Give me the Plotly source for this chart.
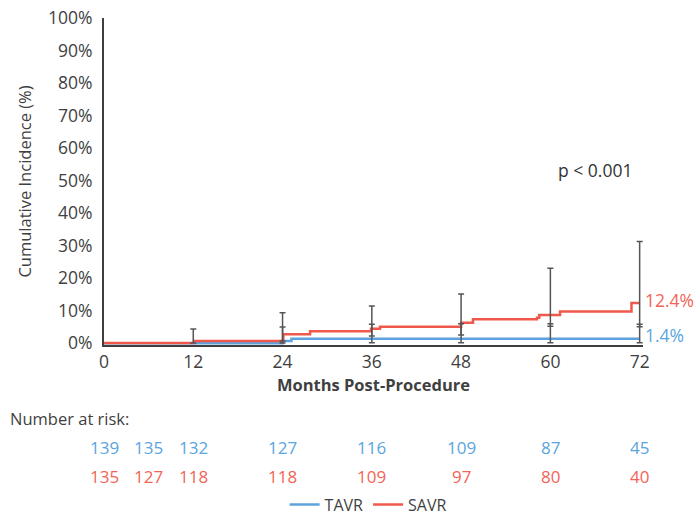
import plotly.graph_objects as go

# ---- data ----
tavr_t = [0, 24.0, 25.2, 72.0]
tavr_v = [0.0, 0.7, 1.4, 1.4]
savr_t = [0, 12.1, 24.1, 27.7, 35.9, 37.1, 48.0, 49.6, 58.2, 58.5, 61.3, 70.9, 72.0]
savr_v = [0.1, 0.7, 2.8, 3.7, 4.5, 5.1, 6.3, 7.4, 7.9, 8.7, 9.8, 12.4, 12.4]

tavr_ci_x = [24, 36, 48, 60, 72]
tavr_ci_y = [0.7, 1.4, 1.4, 1.4, 1.4]
tavr_ci_hi = [5.0, 5.9, 6.0, 6.0, 5.9]
tavr_ci_lo = [0.1, 0.2, 0.2, 0.2, 0.2]

savr_ci_x = [12, 24, 36, 48, 60, 72]
savr_ci_y = [0.7, 2.8, 4.5, 6.3, 8.7, 12.4]
savr_ci_hi = [4.4, 9.4, 11.5, 15.2, 23.1, 31.3]
savr_ci_lo = [0.1, 0.7, 2.3, 2.6, 5.3, 5.1]

risk_months = [0, 6, 12, 24, 36, 48, 60, 72]
risk_tavr = [139, 135, 132, 127, 116, 109, 87, 45]
risk_savr = [135, 127, 118, 118, 109, 97, 80, 40]

x_ticks = [0, 12, 24, 36, 48, 60, 72]
y_ticks = [0, 10, 20, 30, 40, 50, 60, 70, 80, 90, 100]

BLUE = "#5CA2DE"
RED = "#F0584B"
BLUE_T = "#5AA5E0"
RED_T = "#F26456"
GREY = "#3F3F3F"
FONT = "Open Sans"

fig = go.Figure()

fig.add_trace(go.Scatter(x=tavr_t, y=tavr_v, mode="lines", line=dict(color=BLUE, width=2.5, shape="hv"),
                         name="TAVR"))
fig.add_trace(go.Scatter(x=savr_t, y=savr_v, mode="lines", line=dict(color=RED, width=2.5, shape="hv"),
                         name="SAVR"))

err_col = "#555555"
fig.add_trace(go.Scatter(
    x=tavr_ci_x, y=tavr_ci_y, mode="markers", marker=dict(size=1, color="rgba(0,0,0,0)"),
    showlegend=False, hoverinfo="skip",
    error_y=dict(type="data", symmetric=False,
                 array=[h - v for h, v in zip(tavr_ci_hi, tavr_ci_y)],
                 arrayminus=[v - l for l, v in zip(tavr_ci_lo, tavr_ci_y)],
                 color=err_col, thickness=1.5, width=3)))
fig.add_trace(go.Scatter(
    x=savr_ci_x, y=savr_ci_y, mode="markers", marker=dict(size=1, color="rgba(0,0,0,0)"),
    showlegend=False, hoverinfo="skip",
    error_y=dict(type="data", symmetric=False,
                 array=[h - v for h, v in zip(savr_ci_hi, savr_ci_y)],
                 arrayminus=[v - l for l, v in zip(savr_ci_lo, savr_ci_y)],
                 color=err_col, thickness=1.5, width=3)))

# paper coords helpers: plot area x 104..643.3, y 18..344.6
def px(xp):
    return (xp - 104) / 539.3

def py(yp):
    return (344.6 - yp) / 326.6

ann = []
ann.append(dict(x=px(643), y=py(300), xref="paper", yref="paper", text="12.4%", showarrow=False,
                xanchor="left", yanchor="middle", font=dict(color=RED_T, size=17.5, family=FONT)))
ann.append(dict(x=px(643), y=py(335), xref="paper", yref="paper", text="1.4%", showarrow=False,
                xanchor="left", yanchor="middle", font=dict(color=BLUE_T, size=17.5, family=FONT)))
ann.append(dict(x=66.0, y=53.3, xref="x", yref="y", text="p < 0.001", showarrow=False,
                font=dict(color="#333333", size=17.5, family=FONT)))

ann.append(dict(x=px(8), y=py(418), xref="paper", yref="paper", text="Number at risk:",
                showarrow=False, xanchor="left", yanchor="middle",
                font=dict(color=GREY, size=16.5, family=FONT)))
for m, a, b in zip(risk_months, risk_tavr, risk_savr):
    ann.append(dict(x=m, y=py(447), xref="x", yref="paper", text=str(a), showarrow=False,
                    yanchor="middle", font=dict(color=BLUE_T, size=17, family=FONT)))
    ann.append(dict(x=m, y=py(476), xref="x", yref="paper", text=str(b), showarrow=False,
                    yanchor="middle", font=dict(color=RED_T, size=17, family=FONT)))

fig.update_layout(
    width=697, height=516,
    margin=dict(l=104, r=54, t=18, b=171, pad=0, autoexpand=False),
    paper_bgcolor="white", plot_bgcolor="white",
    font=dict(family=FONT, color=GREY, size=16),
    annotations=ann,
    showlegend=True,
    legend=dict(orientation="h", x=0.49, xanchor="center", y=py(504), yanchor="middle",
                font=dict(size=16, color=GREY, family=FONT), itemwidth=30,
                tracegroupgap=0, bgcolor="rgba(0,0,0,0)"),
    xaxis=dict(range=[0, 72.45], tickmode="array", tickvals=x_ticks,
               ticktext=[str(v) for v in x_ticks], showgrid=False, zeroline=False,
               showline=True, linecolor=GREY, linewidth=2, ticks="", automargin=False,
               tickfont=dict(size=17.5, color=GREY),
               title=dict(text="<b>Months Post-Procedure</b>", font=dict(size=16.5, color=GREY), standoff=6)),
    yaxis=dict(range=[-0.5, 100], tickmode="array", tickvals=y_ticks,
               ticktext=[f"{v}%" for v in y_ticks], showgrid=False, zeroline=False,
               showline=True, linecolor=GREY, linewidth=2, ticks="", ticklabelstandoff=6,
               automargin=False,
               tickfont=dict(size=17.5, color=GREY),
               title=dict(text="Cumulative Incidence (%)", font=dict(size=16.5, color=GREY), standoff=12)),
)

fig.write_html("out.html", config={"displayModeBar": False},
               post_script="document.body.style.margin='0';document.body.style.padding='0';")
